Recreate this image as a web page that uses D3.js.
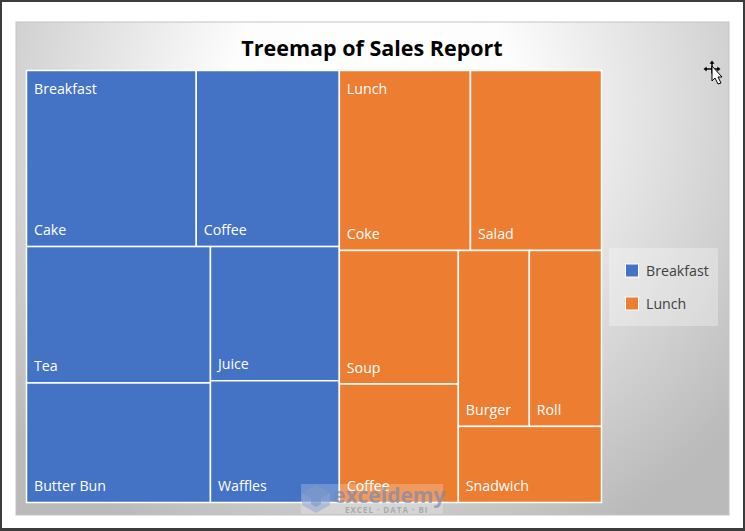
<!DOCTYPE html>
<html>
<head>
<meta charset="utf-8">
<script src="https://cdn.jsdelivr.net/npm/d3@7"></script>
<style>
    html, body { margin: 0; padding: 0; background: #fff; }
    svg { display: block; font-family: "Open Sans", "Noto Sans", sans-serif; }
</style>
</head>
<body>
<svg id="chart" width="745" height="531"></svg>
<script>
const chartTitle = "Treemap of Sales Report";
const groupNames = ["Breakfast", "Lunch"];
const groupColors = ["#4472c4", "#ed7d31"];

// nested arrays: each level swaps between side by side and stacked
const breakfastItems = [
    [["Cake", 2990], ["Coffee", 2520]],
    [[["Tea", 2510], ["Butter Bun", 2200]], [["Juice", 1730], ["Waffles", 1570]]]
];
const lunchItems = [
    [["Coke", 2360], ["Salad", 2360]],
    [[["Soup", 1590], ["Coffee", 1410]], [[["Burger", 1250], ["Roll", 1270]], ["Snadwich", 1090]]]
];

const width = 745, height = 531;
const margin = {top: 70.5, left: 26.5};
const plotWidth = 575, plotHeight = 432;

const svg = d3.select("#chart");

// page frame
svg.append("rect").attr("width", width).attr("height", height).attr("fill", "#3c3c3c");
svg.append("rect").attr("x", 2).attr("y", 2).attr("width", 741).attr("height", 526).attr("fill", "#fff");

// chart area with the radial shading
const grad = svg.append("defs").append("radialGradient")
    .attr("id", "areaFill")
    .attr("gradientUnits", "userSpaceOnUse")
    .attr("cx", 372).attr("cy", 105).attr("r", 480);
grad.append("stop").attr("offset", "0%").attr("stop-color", "#fff");
grad.append("stop").attr("offset", "30%").attr("stop-color", "#fdfdfd");
grad.append("stop").attr("offset", "100%").attr("stop-color", "#bababa");

svg.append("rect")
    .attr("x", 16).attr("y", 22).attr("width", 713).attr("height", 493)
    .attr("fill", "url(#areaFill)")
    .attr("stroke", "#c4c4c4");

svg.append("text")
    .attr("x", 372).attr("y", 56)
    .attr("text-anchor", "middle")
    .attr("font-size", 21.5).attr("font-weight", 700)
    .attr("fill", "#000")
    .text(chartTitle);

// turn the nested arrays into hierarchy nodes
function toNode(item) {
    if (typeof item[0] === "string") return {name: item[0], value: item[1]};
    return {children: item.map(toNode)};
}

const root = d3.hierarchy({
    children: [breakfastItems, lunchItems].map((items, i) => ({
        name: groupNames[i],
        group: i,
        children: items.map(toNode)
    }))
}).sum(d => d.value || 0);

d3.treemap()
    .size([plotWidth, plotHeight])
    .tile((node, x0, y0, x1, y1) => {
        let tile = node.depth % 2 ? d3.treemapSlice : d3.treemapDice;
        tile(node, x0, y0, x1, y1);
    })(root);

const plot = svg.append("g").attr("transform", `translate(${margin.left},${margin.top})`);

const color = d3.scaleOrdinal().domain(groupNames).range(groupColors);

const leaves = plot.selectAll("g.leaf")
    .data(root.leaves())
    .join("g")
    .attr("class", "leaf");

leaves.append("rect")
    .attr("x", d => d.x0).attr("y", d => d.y0)
    .attr("width", d => d.x1 - d.x0).attr("height", d => d.y1 - d.y0)
    .attr("fill", d => color(d.ancestors().find(a => a.depth === 1).data.name))
    .attr("stroke", "#fff").attr("stroke-width", 1.5);

leaves.append("text")
    .attr("x", d => d.x0 + 7.5).attr("y", d => d.y1 - 11.5)
    .attr("font-size", 14.2).attr("fill", "#fff")
    .text(d => d.data.name);

// group names sit in the top left corner of each group
plot.selectAll("text.group")
    .data(root.children)
    .join("text")
    .attr("class", "group")
    .attr("x", d => d.x0 + 7.5).attr("y", d => d.y0 + 23)
    .attr("font-size", 14.2).attr("fill", "#fff")
    .text(d => d.data.name);

// legend
const legend = svg.append("g").attr("transform", "translate(609,248)");
legend.append("rect").attr("width", 109).attr("height", 78).attr("fill", "#fff").attr("opacity", 0.3);

const legendY = d3.scalePoint().domain(groupNames).range([22.5, 55.5]);
const legendRow = legend.selectAll("g.row")
    .data(groupNames)
    .join("g")
    .attr("class", "row")
    .attr("transform", d => `translate(0,${legendY(d)})`);
legendRow.append("rect")
    .attr("x", 16.5).attr("y", -6.5).attr("width", 13).attr("height", 13)
    .attr("fill", d => color(d)).attr("stroke", "#fff");
legendRow.append("text")
    .attr("x", 37).attr("y", 5)
    .attr("font-size", 14.2).attr("fill", "#404040")
    .text(d => d);

// watermark over the bottom of the chart
const mark = svg.append("g").attr("transform", "translate(301,484)");
mark.append("rect").attr("width", 142).attr("height", 30).attr("fill", "#fff").attr("opacity", 0.22);
mark.append("path")
    .attr("d", "M15,1 L29,9 L29,21 L15,29 L1,21 L1,9 Z")
    .attr("fill", "#8fa8d2").attr("opacity", 0.55);
mark.append("path")
    .attr("d", "M15,1 L29,9 L15,17 L1,9 Z M15,17 L20,14 L20,20 L15,23 L10,20 L10,14 Z")
    .attr("fill", "#6f8fc4").attr("opacity", 0.5);
mark.append("text")
    .attr("x", 32).attr("y", 19)
    .attr("font-size", 21).attr("font-weight", 700)
    .attr("fill", "#7c8cae").attr("opacity", 0.7)
    .text("exceldemy");
mark.append("text")
    .attr("x", 44).attr("y", 28.5)
    .attr("font-size", 8).attr("font-weight", 700).attr("letter-spacing", 1)
    .attr("fill", "#a9a9a9")
    .text("EXCEL · DATA · BI");

// mouse cursor
const cursor = svg.append("g").attr("transform", "translate(712,69)")
    .attr("fill", "#fff").attr("stroke", "#000").attr("stroke-width", 1);
cursor.append("path")
    .attr("d", "M-9,0 L-5,-3 L-5,-1 L-1,-1 L-1,-5 L-3,-5 L0,-9 L3,-5 L1,-5 L1,-1 L5,-1 L5,-3 L9,0 L5,3 L5,1 L1,1 L1,5 L-1,5 L-1,1 L-5,1 L-5,3 Z")
    .attr("fill", "#000").attr("stroke", "#fff").attr("stroke-width", 0.5);
cursor.append("path")
    .attr("d", "M0,-3 L0,12 L3,9 L6,15 L9,14 L6,8 L10,8 Z");
</script>
</body>
</html>
